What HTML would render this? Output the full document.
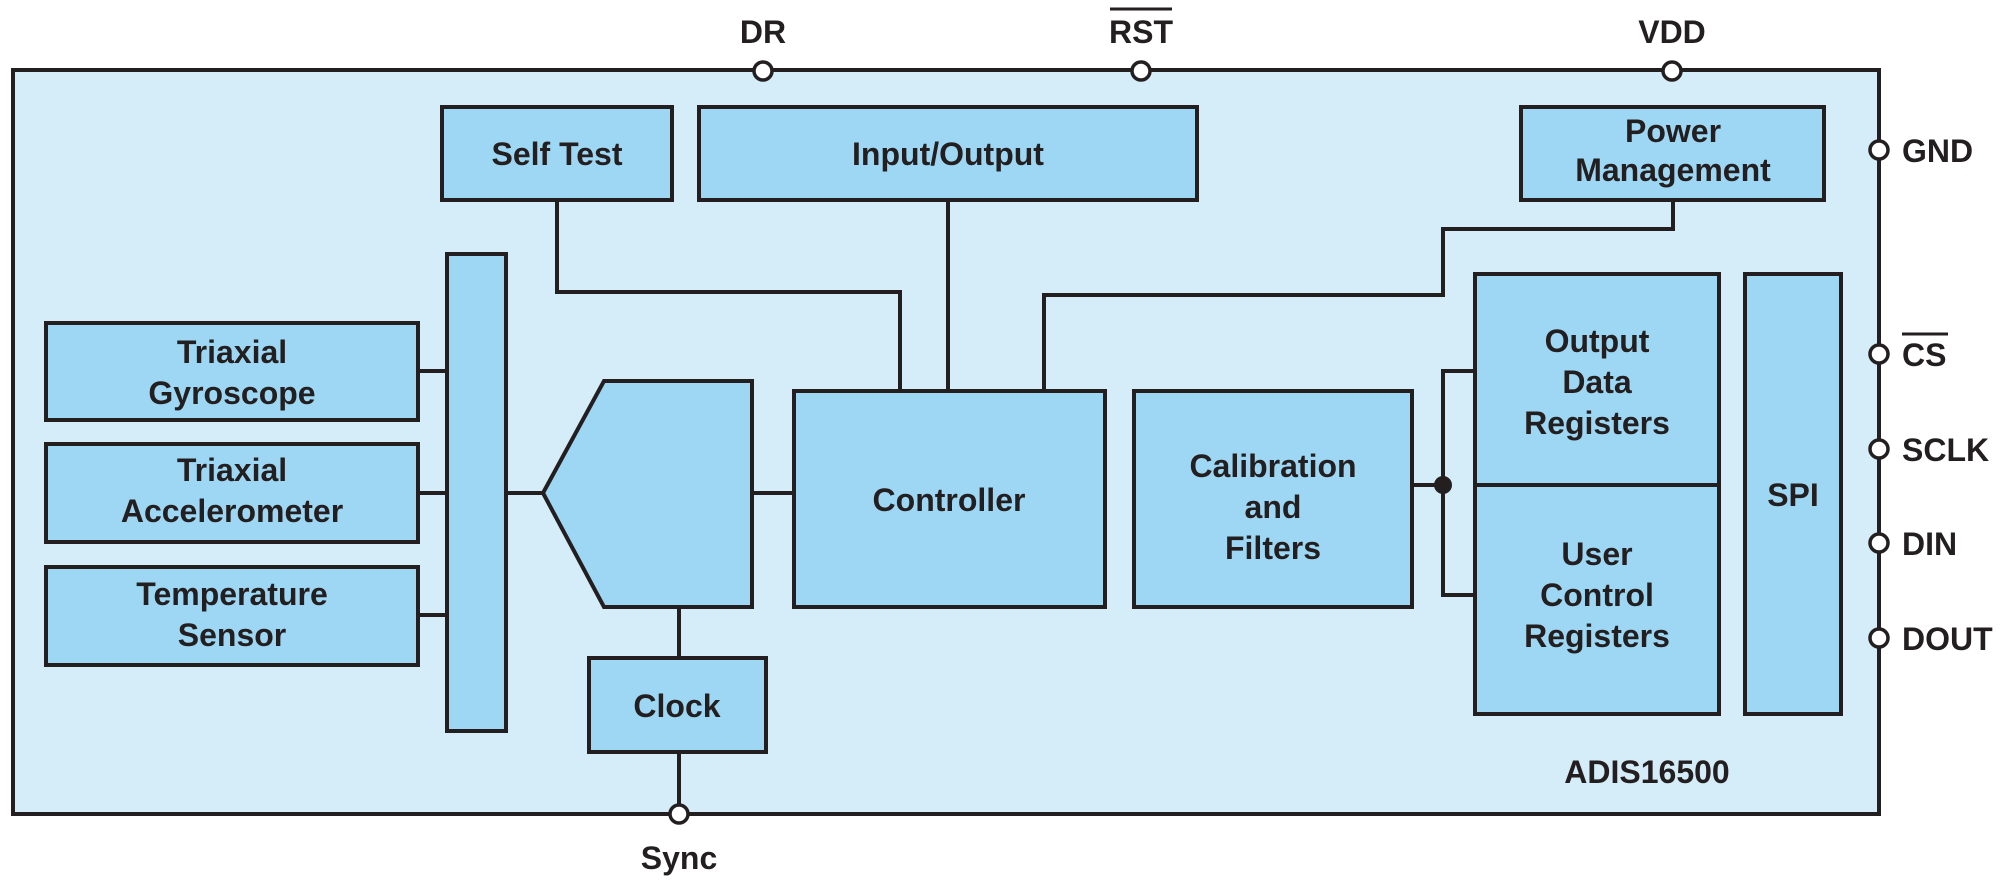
<!DOCTYPE html>
<html><head><meta charset="utf-8"><style>
html,body{margin:0;padding:0;background:#fff;}
svg text{font-family:"Liberation Sans",sans-serif;font-weight:bold;fill:#231f20;font-size:32px;text-anchor:middle;}
</style></head><body>
<svg width="2008" height="885" viewBox="0 0 2008 885" xmlns="http://www.w3.org/2000/svg">
<g stroke="#231f20" stroke-width="4" fill="none">
<rect x="13" y="70" width="1866" height="744" fill="#d5ecf9"/>
<polyline points="557,200 557,292 900,292 900,391"/>
<line x1="948" y1="200" x2="948" y2="391"/>
<polyline points="1673,200 1673,229 1443,229 1443,295 1044,295 1044,391"/>
<line x1="418" y1="371" x2="447" y2="371"/>
<line x1="418" y1="493" x2="447" y2="493"/>
<line x1="418" y1="615" x2="447" y2="615"/>
<line x1="506" y1="493" x2="543" y2="493"/>
<line x1="752" y1="493" x2="794" y2="493"/>
<line x1="679" y1="607" x2="679" y2="658"/>
<line x1="679" y1="752" x2="679" y2="814"/>
<line x1="1412" y1="485" x2="1443" y2="485"/>
<polyline points="1475,371 1443,371 1443,595 1475,595"/>
</g>
<g stroke="#231f20" stroke-width="4" fill="#9dd7f4">
<rect x="442" y="107" width="230" height="93"/>
<rect x="699" y="107" width="498" height="93"/>
<rect x="1521" y="107" width="303" height="93"/>
<rect x="46" y="323" width="372" height="97"/>
<rect x="46" y="444" width="372" height="98"/>
<rect x="46" y="567" width="372" height="98"/>
<rect x="447" y="254" width="59" height="477"/>
<polygon points="543,493 604,381 752,381 752,607 604,607"/>
<rect x="794" y="391" width="311" height="216"/>
<rect x="589" y="658" width="177" height="94"/>
<rect x="1134" y="391" width="278" height="216"/>
<rect x="1475" y="274" width="244" height="440"/>
<line x1="1475" y1="485" x2="1719" y2="485"/>
<rect x="1745" y="274" width="96" height="440"/>
</g>
<circle cx="1443" cy="485" r="9" fill="#231f20"/>
<g stroke="#231f20" stroke-width="3.5" fill="#fff">
<circle cx="763" cy="71" r="9"/>
<circle cx="1141" cy="71" r="9"/>
<circle cx="1672" cy="71" r="9"/>
<circle cx="679" cy="814" r="9"/>
<circle cx="1879" cy="150" r="9"/>
<circle cx="1879" cy="354" r="9"/>
<circle cx="1879" cy="449" r="9"/>
<circle cx="1879" cy="543" r="9"/>
<circle cx="1879" cy="638" r="9"/>
</g>
<text x="763" y="43">DR</text>
<text x="1141" y="43">RST</text>
<line x1="1110" y1="9" x2="1172" y2="9" stroke="#231f20" stroke-width="3"/>
<text x="1672" y="43">VDD</text>
<text x="679" y="869">Sync</text>
<text x="1902" y="162" style="text-anchor:start">GND</text>
<text x="1902" y="366" style="text-anchor:start">CS</text>
<text x="1902" y="461" style="text-anchor:start">SCLK</text>
<text x="1902" y="555" style="text-anchor:start">DIN</text>
<text x="1902" y="650" style="text-anchor:start">DOUT</text>
<line x1="1902" y1="334" x2="1948" y2="334" stroke="#231f20" stroke-width="3"/>
<text x="557" y="165">Self Test</text>
<text x="948" y="165">Input/Output</text>
<text x="1673" y="142">Power</text>
<text x="1673" y="181">Management</text>
<text x="232" y="363">Triaxial</text>
<text x="232" y="404">Gyroscope</text>
<text x="232" y="481">Triaxial</text>
<text x="232" y="522">Accelerometer</text>
<text x="232" y="605">Temperature</text>
<text x="232" y="646">Sensor</text>
<text x="949" y="511">Controller</text>
<text x="677" y="717">Clock</text>
<text x="1273" y="477">Calibration</text>
<text x="1273" y="518">and</text>
<text x="1273" y="559">Filters</text>
<text x="1597" y="352">Output</text>
<text x="1597" y="393">Data</text>
<text x="1597" y="434">Registers</text>
<text x="1597" y="565">User</text>
<text x="1597" y="606">Control</text>
<text x="1597" y="647">Registers</text>
<text x="1793" y="506">SPI</text>
<text x="1647" y="783">ADIS16500</text>
</svg>
</body></html>
